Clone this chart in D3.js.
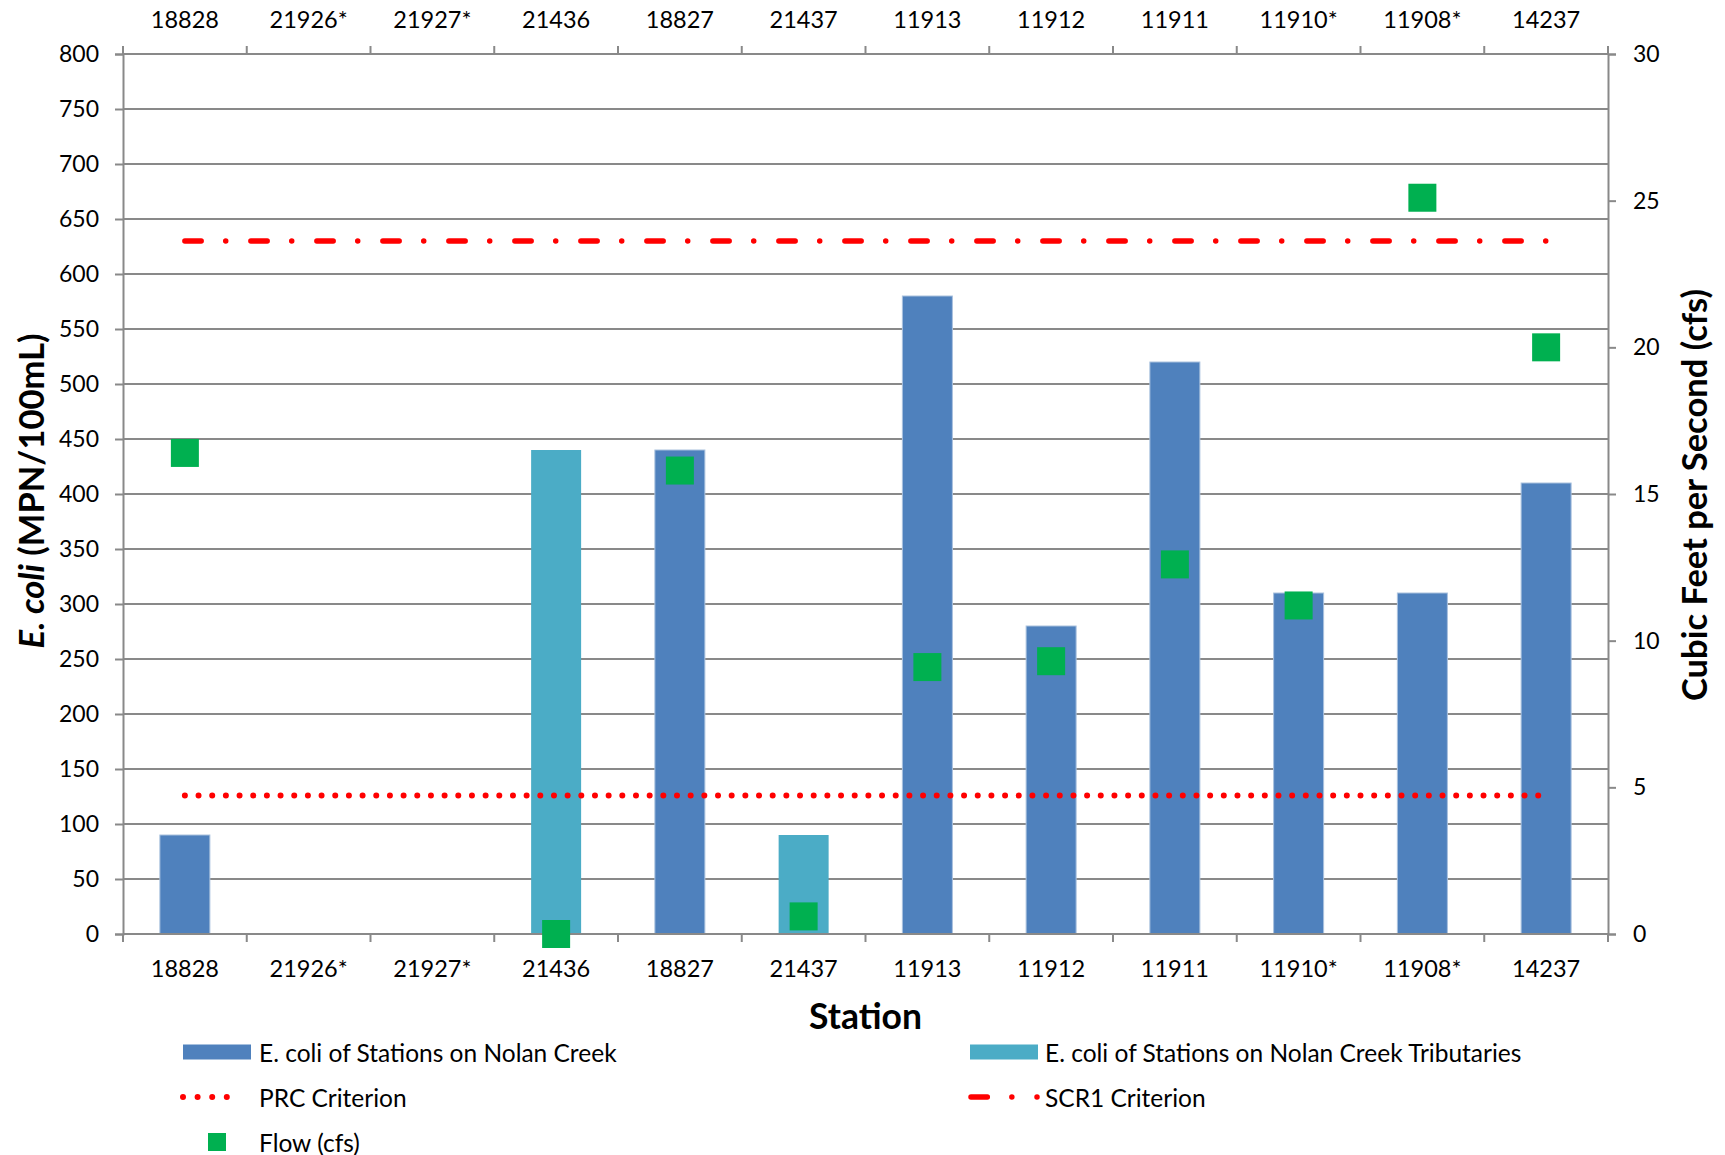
<!DOCTYPE html>
<html>
<head>
<meta charset="utf-8">
<script src="https://cdn.jsdelivr.net/npm/d3@7"></script>
<style>
  body { margin: 0; background: #fff; }
  svg { display: block; font-family: Lato, "Open Sans", sans-serif; }
</style>
</head>
<body>
<div id="chart"></div>
<script>
// data
const stations = ["18828", "21926*", "21927*", "21436", "18827", "21437", "11913", "11912", "11911", "11910*", "11908*", "14237"];
const nolanEcoli = [90, null, null, null, 440, null, 580, 280, 520, 310, 310, 410];
const tribEcoli = [null, null, null, 440, null, 90, null, null, null, null, null, null];
const flowCfs = [16.4, null, null, 0.0, 15.8, 0.6, 9.1, 9.3, 12.6, 11.2, 25.1, 20.0];
const prcCriterion = 126;
const scr1Criterion = 630;
const leftTicks = [0, 50, 100, 150, 200, 250, 300, 350, 400, 450, 500, 550, 600, 650, 700, 750, 800];
const rightTicks = [0, 5, 10, 15, 20, 25, 30];

const W = 1725, H = 1155;
const margin = { top: 54, right: 117, bottom: 221, left: 123 };
const width = W - margin.left - margin.right,
    height = H - margin.top - margin.bottom;

const gridColor = "#898989";
const nolanColor = "#4F81BD", tribColor = "#4BACC6", flowColor = "#00B050", red = "#FF0000";
const scrDash = "16.3 24.55 0 25.15";
const prcDash = "0 13.67";
const tickFont = 23;

const svg = d3.select("#chart")
    .append("svg")
    .attr("width", W)
    .attr("height", H);

const g = svg.append("g")
    .attr("transform", `translate(${margin.left}, ${margin.top})`);

const x = d3.scaleBand()
    .domain(stations)
    .range([0, width])
    .padding(0);

const y = d3.scaleLinear()
    .domain([0, 800])
    .range([height, 0]);

const y2 = d3.scaleLinear()
    .domain([0, 30])
    .range([height, 0]);

const bw = x.bandwidth();
const barW = bw * 0.404;

// gridlines
g.append("g")
    .selectAll("line")
    .data(leftTicks)
    .join("line")
    .attr("x1", 0)
    .attr("x2", width)
    .attr("y1", (d) => y(d))
    .attr("y2", (d) => y(d))
    .attr("stroke", gridColor)
    .attr("stroke-width", 2);

// left axis
const yAxis = g.append("g")
    .call(d3.axisLeft(y).tickValues(leftTicks).tickSize(8).tickPadding(16));

// right axis
const yAxis2 = g.append("g")
    .attr("transform", `translate(${width}, 0)`)
    .call(d3.axisRight(y2).tickValues(rightTicks).tickSize(8).tickPadding(17));

[yAxis, yAxis2].forEach((a) => {
    a.select(".domain").attr("stroke", gridColor).attr("stroke-width", 2);
    a.selectAll(".tick line").attr("stroke", gridColor).attr("stroke-width", 2);
    a.selectAll(".tick text").attr("font-size", tickFont).attr("fill", "#000").attr("font-family", "Lato");
});

// category boundary ticks top and bottom
const bounds = stations.map((d) => x(d)).concat([width]);
g.append("g")
    .selectAll("line")
    .data(bounds)
    .join("line")
    .attr("x1", (d) => d)
    .attr("x2", (d) => d)
    .attr("y1", height)
    .attr("y2", height + 8)
    .attr("stroke", gridColor)
    .attr("stroke-width", 2);
g.append("g")
    .selectAll("line")
    .data(bounds)
    .join("line")
    .attr("x1", (d) => d)
    .attr("x2", (d) => d)
    .attr("y1", 0)
    .attr("y2", -8)
    .attr("stroke", gridColor)
    .attr("stroke-width", 2);

// category labels bottom and top
const xBottom = g.append("g")
    .attr("transform", `translate(0, ${height})`)
    .call(d3.axisBottom(x).tickSize(0).tickPadding(26));
const xTop = g.append("g")
    .call(d3.axisTop(x).tickSize(0).tickPadding(26));
[xBottom, xTop].forEach((a) => {
    a.select(".domain").remove();
    a.selectAll(".tick text").attr("font-size", 23.5).attr("fill", "#000").attr("font-family", "Lato");
});

// bars
g.append("g")
    .selectAll("rect")
    .data(stations.map((s, i) => ({ s, v: nolanEcoli[i] })).filter((d) => d.v != null))
    .join("rect")
    .attr("x", (d) => x(d.s) + (bw - barW) / 2)
    .attr("y", (d) => y(d.v))
    .attr("width", barW)
    .attr("height", (d) => height - y(d.v))
    .attr("fill", nolanColor)
    .attr("stroke", "#a9c1de")
    .attr("stroke-width", 1);

g.append("g")
    .selectAll("rect")
    .data(stations.map((s, i) => ({ s, v: tribEcoli[i] })).filter((d) => d.v != null))
    .join("rect")
    .attr("x", (d) => x(d.s) + (bw - barW) / 2)
    .attr("y", (d) => y(d.v))
    .attr("width", barW)
    .attr("height", (d) => height - y(d.v))
    .attr("fill", tribColor);

// bottom axis line
g.append("line")
    .attr("x1", 0).attr("x2", width)
    .attr("y1", height).attr("y2", height)
    .attr("stroke", gridColor)
    .attr("stroke-width", 2);

// criterion lines
const xFirst = x(stations[0]) + bw / 2,
    xLast = x(stations[stations.length - 1]) + bw / 2;

g.append("line")
    .attr("x1", xFirst).attr("x2", xLast)
    .attr("y1", y(prcCriterion)).attr("y2", y(prcCriterion))
    .attr("stroke", red)
    .attr("stroke-width", 6)
    .attr("stroke-linecap", "round")
    .attr("stroke-dasharray", prcDash);

g.append("line")
    .attr("x1", xFirst).attr("x2", xLast)
    .attr("y1", y(scr1Criterion)).attr("y2", y(scr1Criterion))
    .attr("stroke", red)
    .attr("stroke-width", 5.5)
    .attr("stroke-linecap", "round")
    .attr("stroke-dasharray", scrDash);

// flow markers
const mk = 28;
g.append("g")
    .selectAll("rect")
    .data(stations.map((s, i) => ({ s, v: flowCfs[i] })).filter((d) => d.v != null))
    .join("rect")
    .attr("x", (d) => x(d.s) + bw / 2 - mk / 2)
    .attr("y", (d) => y2(d.v) - mk / 2)
    .attr("width", mk)
    .attr("height", mk)
    .attr("fill", flowColor);

// axis titles
svg.append("text")
    .attr("x", margin.left + width / 2)
    .attr("y", 1015)
    .attr("text-anchor", "middle")
    .attr("dominant-baseline", "central")
    .attr("font-size", 35.5)
    .attr("font-weight", "bold")
    .text("Station");

const lt = svg.append("text")
    .attr("transform", `translate(30, 491) rotate(-90)`)
    .attr("text-anchor", "middle")
    .attr("dominant-baseline", "central")
    .attr("font-size", 34.5)
    .attr("font-weight", "bold");
lt.append("tspan").attr("font-style", "italic").text("E. coli");
lt.append("tspan").text(" (MPN/100mL)");

svg.append("text")
    .attr("transform", `translate(1693, 495) rotate(-90)`)
    .attr("text-anchor", "middle")
    .attr("dominant-baseline", "central")
    .attr("font-size", 34.5)
    .attr("font-weight", "bold")
    .text("Cubic Feet per Second (cfs)");

// legend
const legend = svg.append("g").attr("font-size", 24.5);
const rows = [1052, 1097, 1142];

function legendText(xp, yp, t) {
    legend.append("text")
        .attr("x", xp).attr("y", yp)
        .attr("dominant-baseline", "central")
        .text(t);
}

legend.append("rect").attr("x", 183).attr("y", rows[0] - 7.5).attr("width", 68).attr("height", 15).attr("fill", nolanColor);
legendText(259, rows[0], "E. coli of Stations on Nolan Creek");

legend.append("rect").attr("x", 970).attr("y", rows[0] - 7.5).attr("width", 68).attr("height", 15).attr("fill", tribColor);
legendText(1045, rows[0], "E. coli of Stations on Nolan Creek Tributaries");

legend.append("line")
    .attr("x1", 183).attr("x2", 241)
    .attr("y1", rows[1]).attr("y2", rows[1])
    .attr("stroke", red).attr("stroke-width", 6)
    .attr("stroke-linecap", "round")
    .attr("stroke-dasharray", "0 14.6");
legendText(259, rows[1], "PRC Criterion");

legend.append("line")
    .attr("x1", 971).attr("x2", 1037)
    .attr("y1", rows[1]).attr("y2", rows[1])
    .attr("stroke", red).attr("stroke-width", 5.5)
    .attr("stroke-linecap", "round")
    .attr("stroke-dasharray", scrDash);
legendText(1045, rows[1], "SCR1 Criterion");

legend.append("rect").attr("x", 208).attr("y", rows[2] - 9).attr("width", 18).attr("height", 18).attr("fill", flowColor);
legendText(259, rows[2], "Flow (cfs)");
</script>
</body>
</html>
